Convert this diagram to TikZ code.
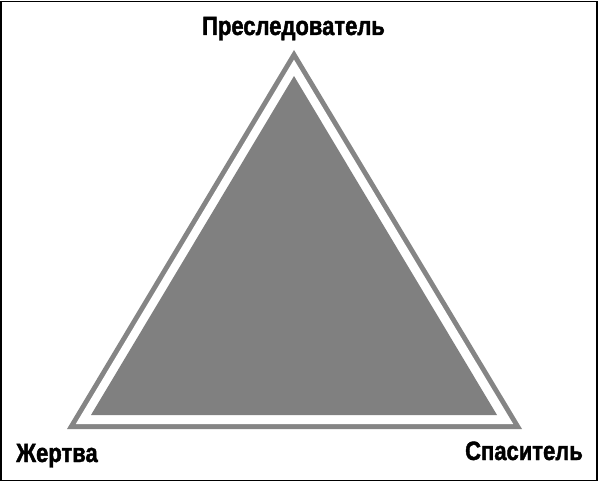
\documentclass[tikz,border=0pt]{standalone}
\usepackage{fontspec}
\newfontfamily\labfont{Liberation Sans}[UprightFont=* Bold, FakeStretch=0.83, FakeBold=1.6]
\tikzset{
  lab/.style={font=\labfont\fontsize{26.5}{26.5}\selectfont, inner sep=0pt, text=black}
}
\begin{document}
\begin{tikzpicture}[x=1pt,y=-1pt]
\useasboundingbox (0,0) rectangle (600,484);
\fill[white] (0,0) rectangle (600,484);
\draw[line width=1.6pt, black] (0.8,1.6) rectangle (596.8,480.4);
% outer gray triangle
\coordinate (oA) at (294,50);
\coordinate (oB) at (67,429);
\coordinate (oC) at (522,429);
\fill[black!48] (oA) -- (oB) -- (oC) -- cycle;
% white gap
\coordinate (wA) at (294,59.7);
\coordinate (wB) at (75.8,424);
\coordinate (wC) at (513.2,424);
\fill[white] (wA) -- (wB) -- (wC) -- cycle;
% inner triangle
\coordinate (iA) at (294,76);
\coordinate (iB) at (91,415);
\coordinate (iC) at (497,415);
\fill[black!50] (iA) -- (iB) -- (iC) -- cycle;
\node[lab, anchor=base] (top) at (293.5,35) {Преследователь};
\node[lab, anchor=base west] (left) at (16,462) {Жертва};
\node[lab, anchor=base east] (right) at (583,460) {Спаситель};
\end{tikzpicture}
\end{document}
